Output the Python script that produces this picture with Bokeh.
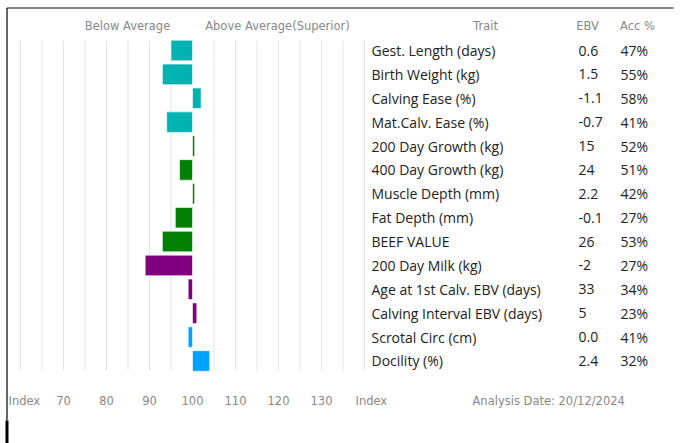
from bokeh.plotting import figure
from bokeh.models import Range1d
from bokeh.core.properties import value
from bokeh.embed import file_html
from bokeh.resources import INLINE

# ---- data ----
traits = ["Gest. Length (days)", "Birth Weight (kg)", "Calving Ease (%)",
          "Mat.Calv. Ease (%)", "200 Day Growth (kg)", "400 Day Growth (kg)",
          "Muscle Depth (mm)", "Fat Depth (mm)", "BEEF VALUE", "200 Day Milk (kg)",
          "Age at 1st Calv. EBV (days)", "Calving Interval EBV (days)",
          "Scrotal Circ (cm)", "Docility (%)"]
ebv = ["0.6", "1.5", "-1.1", "-0.7", "15", "24", "2.2", "-0.1", "26", "-2",
       "33", "5", "0.0", "2.4"]
acc = ["47%", "55%", "58%", "41%", "52%", "51%", "42%", "27%", "53%", "27%",
       "34%", "23%", "41%", "32%"]
index_vals = [95, 93, 102, 94, 100.5, 97, 100.5, 96, 93, 89, 99, 101, 99, 104]
groups = ["calving"] * 4 + ["growth"] * 5 + ["maternal"] * 3 + ["other"] * 2
group_colors = {"calving": "#00B3B3", "growth": "#008000",
                "maternal": "#800080", "other": "#00A2FF"}
baseline = 100
grid_vals = [60, 65, 70, 75, 80, 85, 90, 95, 105, 110, 115, 120, 125, 130, 135, 140]
tick_vals = [70, 80, 90, 100, 110, 120, 130]
tick_labels = ["70", "80", "90", "100", "110", "120", "130"]
analysis_date = "Analysis Date: 20/12/2024"

# ---- layout ----
W, H = 683, 443
PX_PER_UNIT = 4.3
x_left = 60 - 20 / PX_PER_UNIT
x_right = x_left + W / PX_PER_UNIT
ROW0, PITCH = 50.0, 23.88
y_bottom = (H - ROW0) / PITCH
y_top = (0 - ROW0) / PITCH

p = figure(width=W, height=H, x_range=Range1d(x_left, x_right),
           y_range=Range1d(y_bottom, y_top), output_backend="svg",
           toolbar_location=None, min_border=0, x_axis_type=None, y_axis_type=None)
p.grid.visible = False
p.outline_line_color = None
p.background_fill_color = "white"
p.border_fill_color = "white"
p.extra_x_ranges = {"px": Range1d(0, W)}
p.extra_y_ranges = {"py": Range1d(H, 0)}

rows = list(range(len(traits)))

# gridlines
p.segment(x0=grid_vals, x1=grid_vals, y0=[40] * len(grid_vals), y1=[370] * len(grid_vals),
          y_range_name="py", line_color="#e3e3e3", line_width=1)

# bars
lefts = [min(v, baseline) for v in index_vals]
rights = [max(v, baseline) for v in index_vals]
cols = [group_colors[g] for g in groups]
p.hbar(y=rows, left=lefts, right=rights, height=0.86, fill_color=cols,
       line_color="white", line_alpha=0.6, line_width=1)

# table text
tfont = value("Open Sans")
for xs, txt in ((371, traits), (578, ebv), (620, acc)):
    p.text(x=[xs] * len(rows), y=rows, text=txt, x_range_name="px",
           text_font=tfont, text_font_size="14px", text_color="#222222",
           text_baseline="middle", text_align="left")

# headers
hfont = value("DejaVu Sans")
hdr_x = [127, 277, 485, 587, 637]
hdr_t = ["Below Average", "Above Average(Superior)", "Trait", "EBV", "Acc %"]
p.text(x=hdr_x, y=[25] * 5, text=hdr_t, x_range_name="px", y_range_name="py",
       text_font=hfont, text_font_size="11.5px", text_color="#888888",
       text_baseline="middle", text_align="center")

# bottom tick labels
p.text(x=tick_vals, y=[400] * len(tick_vals), text=tick_labels, y_range_name="py",
       text_font=hfont, text_font_size="11.5px", text_color="#888888",
       text_baseline="middle", text_align="center")
p.text(x=[8, 355, 472], y=[400] * 3, text=["Index", "Index", analysis_date],
       x_range_name="px", y_range_name="py",
       text_font=hfont, text_font_size="11.5px", text_color="#888888",
       text_baseline="middle", text_align="left")

# border lines
p.segment(x0=[6.5, 6.5], x1=[673, 6.5], y0=[7.5, 7.5], y1=[7.5, 420],
          x_range_name="px", y_range_name="py", line_color="black", line_width=1.2)
p.segment(x0=[6.5], x1=[6.5], y0=[420], y1=[443],
          x_range_name="px", y_range_name="py", line_color="black", line_width=3)

open("out.html", "w").write(file_html(p, INLINE))
